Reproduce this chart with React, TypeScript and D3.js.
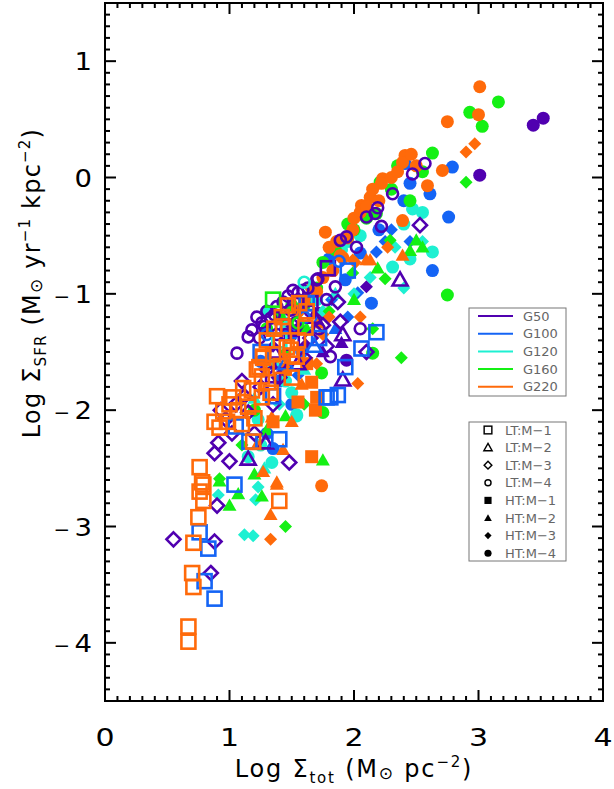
import React from "react";
import * as d3 from "d3";

// marker codes: 0 LT:M-1 square, 1 LT:M-2 triangle, 2 LT:M-3 diamond, 3 LT:M-4 circle
//               4 HT:M-1 square, 5 HT:M-2 triangle, 6 HT:M-3 diamond, 7 HT:M-4 circle
const groupNames = ["G50", "G100", "G120", "G160", "G220"];
const groupColors = ["#5000b0", "#1464f5", "#1ef0d2", "#14f014", "#ff6a0a"];
const markerNames = ["LT:M−1", "LT:M−2", "LT:M−3", "LT:M−4", "HT:M−1", "HT:M−2", "HT:M−3", "HT:M−4"];
const xTicks = [0, 1, 2, 3, 4];
const yTicks = [-4, -3, -2, -1, 0, 1];

const g50 = [
  [1.06, -1.51, 3], [1.18, -1.31, 3], [1.26, -1.25, 3], [1.33, -1.21, 3], [1.38, -1.11, 3],
  [1.43, -1.07, 3], [1.51, -0.97, 3], [1.59, -0.97, 3], [1.47, -1.02, 3], [1.55, -0.99, 3],
  [1.71, -0.87, 3], [1.85, -0.94, 3], [1.7, -0.88, 3], [1.81, -1.54, 3], [1.89, -0.54, 3],
  [1.94, -0.51, 3], [2.02, -0.6, 3], [2.1, -0.34, 3], [2.17, -0.31, 3], [2.19, -0.26, 3],
  [2.31, -0.14, 3], [2.47, 0.03, 3], [2.57, 0.12, 3], [1.28, -1.28, 3], [1.36, -1.18, 3],
  [1.24, -1.38, 3], [1.15, -1.37, 3], [1.38, -1.35, 3], [1.63, -0.95, 3], [1.49, -1.14, 3],
  [1.65, -1.15, 3], [1.72, -1.3, 3], [1.45, -1.35, 3], [1.22, -1.2, 3], [1.3, -1.15, 3],
  [1.53, -1.25, 3], [1.78, -1.05, 3], [2.22, -0.42, 3], [1.41, -1.6, 3], [2.05, -1.3, 3],
  [0.55, -3.11, 2], [0.85, -3.4, 2], [0.88, -3.13, 2], [0.9, -2.82, 2], [0.88, -2.37, 2],
  [0.91, -2.28, 2], [1.0, -2.44, 2], [1.48, -2.45, 2], [0.97, -2.08, 2], [0.93, -2.0, 2],
  [1.05, -1.95, 2], [1.87, -1.07, 2], [1.75, -1.27, 2], [1.89, -1.24, 2], [2.53, -0.41, 2],
  [1.12, -1.88, 2], [1.2, -2.2, 2], [1.65, -1.38, 2], [1.3, -1.65, 2], [1.4, -1.72, 2],
  [1.25, -1.8, 2], [1.15, -2.02, 2], [1.35, -1.95, 2], [1.6, -1.55, 2], [1.52, -1.28, 2],
  [2.1, -1.5, 2], [1.02, -2.2, 2], [1.78, -1.45, 2], [1.1, -1.75, 2],
  [1.15, -2.42, 1], [1.29, -2.28, 1], [1.91, -1.35, 1], [1.91, -1.74, 1], [2.37, -0.88, 1], [1.55, -1.6, 1],
  [1.68, -1.2, 1], [1.36, -1.5, 1],
  [1.79, -0.78, 0], [1.65, -1.08, 0], [1.43, -1.28, 0], [1.5, -1.42, 0], [1.35, -1.7, 0],
  [3.44, 0.45, 7], [3.52, 0.51, 7], [3.01, 0.02, 7], [1.94, -1.57, 7], [1.72, -1.17, 7], [1.56, -1.3, 7],
  [2.1, -0.94, 6], [1.6, -1.45, 6], [1.35, -1.45, 6], [1.9, -1.42, 5], [1.75, -1.5, 5],
];

const g100 = [
  [0.8, -3.47, 0], [0.88, -3.62, 0], [0.76, -3.05, 0], [0.83, -3.19, 0], [1.04, -2.64, 0],
  [1.4, -2.25, 0], [1.78, -1.89, 0], [1.81, -1.89, 0], [1.87, -1.87, 0], [2.06, -1.47, 0],
  [1.93, -1.63, 0], [2.18, -1.33, 0], [1.05, -2.14, 0], [1.16, -2.27, 0], [1.62, -1.08, 0],
  [1.35, -1.88, 0], [1.25, -1.5, 0], [1.72, -1.38, 0], [1.95, -0.8, 0],
  [1.3, -1.35, 3], [1.6, -1.2, 3], [1.88, -0.72, 3],
  [1.45, -1.6, 1], [1.68, -1.45, 1],
  [2.79, 0.09, 7], [2.76, -0.34, 7], [2.63, -0.8, 7], [2.61, -0.14, 7], [2.45, -0.05, 7],
  [2.41, 0.12, 7], [1.35, -2.33, 7], [1.93, -0.88, 7], [2.14, -1.08, 7], [1.5, -1.35, 7],
  [1.58, -1.5, 7], [1.4, -1.75, 7], [1.62, -1.05, 7], [1.45, -1.3, 7], [1.8, -0.7, 7],
  [2.2, -0.45, 7], [2.4, -0.2, 7], [1.66, -0.95, 7], [1.5, -1.95, 7], [1.3, -2.2, 7],
  [1.25, -1.58, 7], [2.05, -0.65, 7],
  [2.18, -0.64, 6], [2.03, -0.99, 6], [1.82, -1.05, 6], [2.25, -0.55, 6], [2.45, -0.55, 6],
  [2.3, -0.45, 6], [1.55, -1.7, 6], [1.95, -1.2, 6],
  [1.7, -1.25, 5], [1.85, -1.3, 5],
];

const g120 = [
  [2.47, -0.27, 7], [2.63, -0.64, 7], [2.31, -0.77, 7], [1.54, -2.05, 7], [1.34, -2.45, 7],
  [1.23, -2.08, 7], [1.54, -2.04, 7], [1.45, -1.75, 7], [1.3, -1.15, 7], [1.95, -0.55, 7],
  [1.45, -1.25, 7], [1.55, -1.15, 7], [1.9, -0.62, 7], [2.05, -0.5, 7], [2.4, -0.4, 7],
  [2.55, -0.3, 7], [2.45, -0.7, 7], [1.35, -1.6, 7], [1.5, -1.85, 7], [1.25, -2.3, 7],
  [1.15, -2.4, 7], [1.7, -1.05, 7],
  [1.23, -2.66, 6], [1.21, -2.77, 6], [0.91, -2.73, 6], [1.12, -3.07, 6], [1.19, -3.08, 6],
  [2.13, -0.86, 6], [2.33, -0.6, 6], [2.55, -0.55, 6], [2.0, -1.0, 6], [1.75, -1.15, 6],
  [2.4, -0.95, 6], [1.4, -1.95, 6],
  [1.28, -2.5, 5], [1.6, -1.65, 5], [1.85, -1.0, 5], [1.2, -1.9, 5],
  [1.6, -0.9, 3], [1.4, -1.4, 0],
];

const g160 = [
  [2.63, 0.21, 7], [2.21, -0.04, 7], [2.18, -0.31, 7], [1.75, -0.73, 7], [2.75, -1.01, 7],
  [3.16, 0.65, 7], [2.93, 0.56, 7], [3.03, 0.44, 7], [1.74, -1.68, 7], [1.75, -2.02, 7],
  [2.15, -1.51, 7], [1.95, -0.4, 7], [1.3, -1.3, 7], [2.45, -0.2, 7], [1.85, -0.62, 7],
  [2.0, -0.45, 7], [2.1, -0.35, 7], [2.3, -0.1, 7], [1.6, -1.1, 7], [1.7, -0.95, 7],
  [2.35, 0.1, 7], [2.55, 0.05, 7], [1.4, -1.2, 7], [1.5, -1.1, 7], [1.2, -2.0, 7],
  [1.07, -2.72, 5], [1.0, -2.82, 5], [1.26, -2.74, 5], [0.92, -2.61, 5], [1.75, -2.43, 5],
  [1.3, -2.17, 5], [2.5, -0.54, 5], [2.45, -0.63, 5], [2.55, -0.6, 5], [2.19, -0.78, 5],
  [1.2, -2.55, 5], [1.62, -1.3, 5], [1.45, -2.05, 5], [2.0, -1.05, 5],
  [2.9, -0.04, 6], [1.45, -3.0, 6], [0.92, -2.59, 6], [2.29, -0.54, 6], [1.99, -0.82, 6],
  [2.25, -0.87, 6], [1.45, -1.5, 6], [1.6, -1.95, 6], [1.8, -1.15, 6], [2.15, -1.3, 6],
  [2.38, -1.55, 6], [1.1, -2.3, 6],
  [1.55, -1.25, 3], [1.35, -1.05, 0],
];

const g220 = [
  [0.67, -3.86, 0], [0.67, -3.99, 0], [0.7, -3.4, 0], [0.71, -3.52, 0], [0.71, -3.14, 0],
  [0.75, -2.92, 0], [0.79, -2.78, 0], [0.76, -2.7, 0], [0.79, -2.64, 0], [1.4, -2.78, 0],
  [0.76, -2.49, 0], [0.78, -2.62, 0], [1.19, -2.27, 0], [1.27, -1.55, 0], [1.24, -1.63, 0],
  [1.26, -1.71, 0], [1.22, -1.65, 0], [1.11, -1.81, 0], [1.03, -1.89, 0], [1.0, -1.95, 0],
  [0.95, -2.01, 0], [0.88, -2.1, 0], [0.98, -2.1, 0], [1.07, -2.0, 0], [1.18, -1.83, 0],
  [1.26, -1.89, 0], [1.33, -1.85, 0], [1.49, -1.48, 0], [1.54, -1.54, 0], [1.46, -1.46, 0],
  [1.5, -1.53, 0], [1.27, -1.54, 0], [1.61, -1.29, 0], [1.43, -1.28, 0], [1.55, -1.4, 0],
  [0.9, -1.88, 0], [0.92, -2.15, 0], [1.3, -1.4, 0], [1.36, -1.3, 0], [1.42, -1.2, 0],
  [1.47, -1.1, 0], [1.56, -1.08, 0], [1.62, -1.15, 0], [1.35, -1.52, 0], [1.41, -1.62, 0],
  [1.5, -1.72, 0], [1.31, -1.76, 0], [1.15, -1.97, 0], [1.2, -2.07, 0], [1.1, -2.12, 0],
  [1.66, -1.76, 4], [1.7, -1.89, 4], [1.69, -2.0, 4], [1.55, -1.93, 4], [1.66, -2.4, 4],
  [1.45, -1.65, 4], [1.62, -1.6, 4], [1.35, -2.1, 4],
  [1.38, -2.64, 5], [1.33, -2.9, 5], [1.34, -2.06, 5], [1.27, -2.53, 5], [1.38, -2.62, 5],
  [1.43, -2.34, 5], [2.1, -0.71, 5], [2.39, -0.67, 5], [2.13, -0.71, 5], [1.5, -2.1, 5],
  [1.72, -1.25, 5], [1.58, -1.78, 5], [1.22, -2.3, 5],
  [1.33, -3.11, 6], [2.01, -0.73, 6], [2.03, -1.77, 6], [1.99, -0.71, 6], [2.27, -0.6, 6],
  [2.97, 0.29, 6], [2.9, 0.22, 6], [1.7, -1.6, 6], [1.8, -1.2, 6], [1.75, -1.35, 6], [2.05, -1.2, 6],
  [2.41, 0.19, 7], [2.39, 0.13, 7], [2.59, -0.07, 7], [2.71, 0.06, 7], [2.23, -0.01, 7],
  [2.22, -0.05, 7], [2.13, -0.17, 7], [2.06, -0.24, 7], [1.77, -0.47, 7], [1.99, -0.45, 7],
  [2.39, -0.37, 7], [1.91, -0.69, 7], [1.83, -0.8, 7], [1.89, -0.67, 7], [3.01, 0.78, 7],
  [3.0, 0.54, 7], [2.75, 0.48, 7], [1.74, -2.65, 7], [2.0, -0.35, 7], [2.15, -0.1, 7],
  [2.3, 0.0, 7], [1.6, -1.05, 7], [1.66, -0.95, 7], [1.75, -0.86, 7], [1.8, -0.6, 7],
  [1.86, -0.55, 7], [1.95, -0.52, 7], [2.05, -0.3, 7], [2.1, -0.25, 7], [2.2, -0.2, 7],
  [2.35, 0.05, 7], [2.46, 0.2, 7], [2.5, 0.1, 7], [1.7, -0.98, 7], [1.55, -1.15, 7],
];

const allGroups = [g50, g100, g120, g160, g220];

const x = d3.scaleLinear().domain([0, 4]).range([105, 603]);
const y = d3.scaleLinear().domain([-4.5, 1.5]).range([701, 3]);

const font = "DejaVu Sans, sans-serif";

function Marker({ m, cx, cy, color, k = 1 }) {
  const hollow = m < 4;
  const sw = 2.6 * k;
  const style = hollow
    ? { fill: "none", stroke: color, strokeWidth: sw }
    : { fill: color, stroke: "none" };
  const t = m % 4;
  if (t === 0) {
    const s = (hollow ? 14 : 13) * k;
    return <rect x={cx - s / 2} y={cy - s / 2} width={s} height={s} {...style} />;
  }
  if (t === 1) {
    const h = (hollow ? 7.5 : 7) * k;
    return <path d={`M${cx},${cy - h}L${cx + h},${cy + h * 0.75}L${cx - h},${cy + h * 0.75}Z`} {...style} />;
  }
  if (t === 2) {
    const h = (hollow ? 7 : 6.5) * k;
    return <path d={`M${cx},${cy - h}L${cx + h},${cy}L${cx},${cy + h}L${cx - h},${cy}Z`} {...style} />;
  }
  const r = (hollow ? 5.5 : 6.5) * k;
  return <circle cx={cx} cy={cy} r={r} {...style} />;
}

export default function App() {
  const xMinor = d3.range(0, 4.001, 0.1);
  const yMinor = d3.range(-4.5, 1.501, 0.1);
  const points = [];
  // filled (HT) markers first, then hollow (LT)
  [true, false].forEach((filled) => {
    allGroups.forEach((g, gi) => {
      g.forEach((d, i) => {
        if ((d[2] >= 4) === filled)
          points.push(<Marker key={`${gi}-${i}`} m={d[2]} cx={x(d[0])} cy={y(d[1])} color={groupColors[gi]} />);
      });
    });
  });

  return (
    <svg width={614} height={789} style={{ position: "absolute", left: 0, top: 0, background: "#fff" }}>
      <g>{points}</g>
      {/* frame and ticks */}
      <rect x={105} y={3} width={498} height={698} fill="none" stroke="#000" strokeWidth={2} />
      {xMinor.map((v, i) => {
        const major = Math.abs(v - Math.round(v)) < 1e-6;
        const L = major ? 11 : 5;
        return (
          <g key={`xt${i}`} stroke="#000" strokeWidth={2}>
            <line x1={x(v)} x2={x(v)} y1={701} y2={701 - L} />
            <line x1={x(v)} x2={x(v)} y1={3} y2={3 + L} />
          </g>
        );
      })}
      {yMinor.map((v, i) => {
        const major = Math.abs(v - Math.round(v)) < 1e-6;
        const L = major ? 11 : 5;
        return (
          <g key={`yt${i}`} stroke="#000" strokeWidth={2}>
            <line x1={105} x2={105 + L} y1={y(v)} y2={y(v)} />
            <line x1={603} x2={603 - L} y1={y(v)} y2={y(v)} />
          </g>
        );
      })}
      {xTicks.map((v) => (
        <text key={`xl${v}`} transform={`translate(${x(v)},746) scale(1.2,1)`} textAnchor="middle" fontFamily={font} fontSize={25}>
          {v}
        </text>
      ))}
      {yTicks.map((v) => (
        <text key={`yl${v}`} transform={`translate(92,${y(v) + 9}) scale(1.1,1)`} textAnchor="end" fontFamily={font} fontSize={25}>
          {v < 0 ? <tspan fontSize={18} dx={0}>−</tspan> : null}
          <tspan dx={v < 0 ? 4 : 0}>{Math.abs(v)}</tspan>
        </text>
      ))}
      <text x={354} y={777} textAnchor="middle" fontFamily={font} fontSize={24} letterSpacing={1.8}>
        Log Σ<tspan fontSize={15} dy={6}>tot</tspan>
        <tspan dy={-6}> (M</tspan>
        <tspan fontSize={17} dy={2}>⊙</tspan>
        <tspan dy={-2}> pc</tspan>
        <tspan fontSize={15} dy={-10}>−2</tspan>
        <tspan dy={10}>)</tspan>
      </text>
      <text transform="translate(40,283) rotate(-90)" textAnchor="middle" fontFamily={font} fontSize={24} letterSpacing={1.2}>
        Log Σ<tspan fontSize={15} dy={6}>SFR</tspan>
        <tspan dy={-6}> (M</tspan>
        <tspan fontSize={17} dy={2}>⊙</tspan>
        <tspan dy={-2}> yr</tspan>
        <tspan fontSize={15} dy={-10}>−1</tspan>
        <tspan dy={10}> kpc</tspan>
        <tspan fontSize={15} dy={-10}>−2</tspan>
        <tspan dy={10}>)</tspan>
      </text>
      {/* group legend */}
      <rect x={469} y={308} width={97} height={88} fill="#fff" stroke="#777" strokeWidth={1} />
      {groupNames.map((n, i) => (
        <g key={n}>
          <line x1={478} x2={513} y1={316 + i * 17.7} y2={316 + i * 17.7} stroke={groupColors[i]} strokeWidth={2} />
          <text x={523} y={316 + i * 17.7 + 4.5} fontFamily={font} fontSize={13} fill="#666">
            {n}
          </text>
        </g>
      ))}
      {/* marker legend */}
      <rect x={469} y={422} width={97} height={139} fill="#fff" stroke="#777" strokeWidth={1} />
      {markerNames.map((n, i) => (
        <g key={n}>
          <Marker m={i} cx={488} cy={430 + i * 17.6} color="#000" k={0.55} />
          <text x={505} y={430 + i * 17.6 + 4.5} fontFamily={font} fontSize={13} fill="#666">
            {n}
          </text>
        </g>
      ))}
    </svg>
  );
}
